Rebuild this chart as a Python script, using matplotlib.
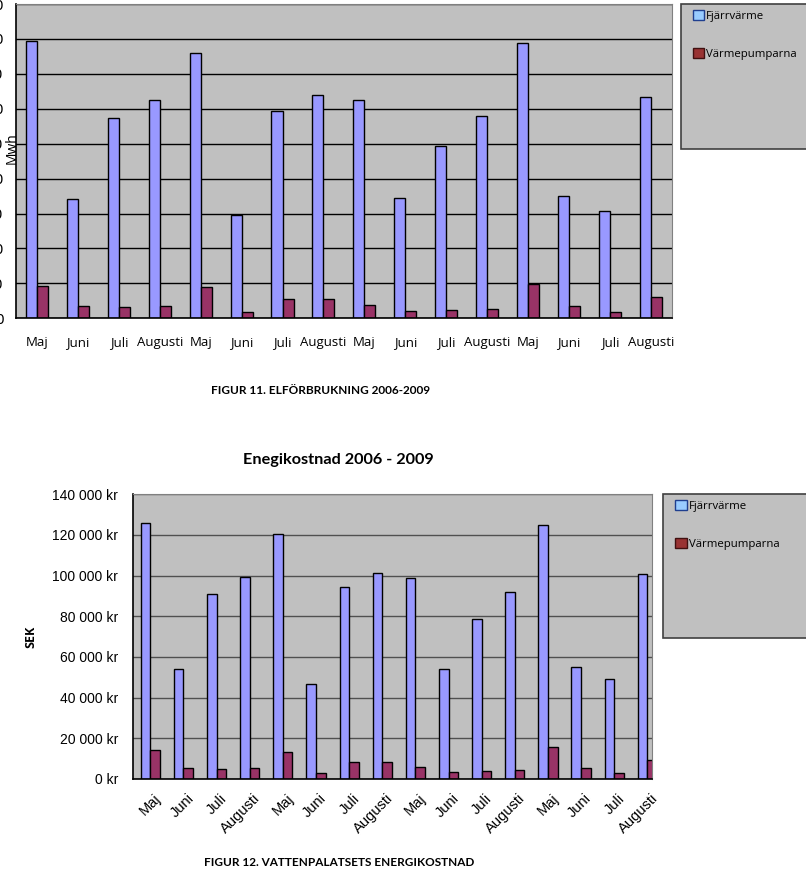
import matplotlib.pyplot as plt
from matplotlib.patches import Patch, Rectangle
import numpy as np

# data
months = ['Maj', 'Juni', 'Juli', 'Augusti'] * 4
el_fjarr = [79.5, 34.1, 57.4, 62.6, 76.0, 29.5, 59.5, 64.0,
            62.4, 34.5, 49.3, 58.0, 78.7, 34.9, 30.7, 63.5]
el_pump = [9.2, 3.5, 3.3, 3.5, 8.9, 1.9, 5.4, 5.4,
           3.9, 2.1, 2.4, 2.7, 9.7, 3.4, 1.7, 6.0]
kost_fjarr = [126000, 54000, 90800, 99500, 120700, 46600, 94600, 101500,
              98700, 54300, 78600, 92100, 125100, 54900, 49200, 100700]
kost_pump = [14300, 5300, 4900, 5300, 13400, 2800, 8500, 8500,
             5900, 3400, 3700, 4300, 15700, 5300, 2800, 9300]
series = ['Fjärrvärme', 'Värmepumparna']

W, H = 806, 869
BLUE, RED = '#9999FF', '#993366'
GREY = '#C0C0C0'


def rect(l, t, r, b):
    return [l / W, 1 - b / H, (r - l) / W, (b - t) / H]


def style(ax, grid_col):
    ax.set_facecolor(GREY)
    ax.yaxis.grid(True, color=grid_col, lw=1)
    ax.set_axisbelow(True)
    for s in ['top', 'right']:
        ax.spines[s].set_color('#808080')
        ax.spines[s].set_linewidth(0.8)
    for s in ['left', 'bottom']:
        ax.spines[s].set_color('black')
        ax.spines[s].set_linewidth(1.2)
    ax.tick_params(length=0)


def legend_box(fig, l, t, r, b, px):
    fig.add_artist(Rectangle((l / W, 1 - b / H), (r - l) / W, (b - t) / H,
                             transform=fig.transFigure, facecolor=GREY,
                             edgecolor='#404040', lw=1.2))
    handles = [Patch(facecolor='#99CCFF', edgecolor='#1F3F8F', lw=1),
               Patch(facecolor='#993333', edgecolor='#401010', lw=1)]
    fig.legend(handles, series, loc='upper left',
               bbox_to_anchor=(px / W, 1 - (t + 6) / H), frameon=False,
               prop={'family': 'Open Sans', 'size': 8.2},
               handlelength=1.0, handleheight=1.0, handletextpad=0.2,
               labelspacing=2.3, borderpad=0, borderaxespad=0)


fig = plt.figure(figsize=(W / 100, H / 100), dpi=100)
x = np.arange(len(months))

# top chart
ax1 = fig.add_axes(rect(16, 4, 672, 318.3))
style(ax1, 'black')
w1 = 0.27
ax1.bar(x - w1 / 2, el_fjarr, w1, color=BLUE, edgecolor='black', lw=1)
ax1.bar(x + w1 / 2, el_pump, w1, color=RED, edgecolor='black', lw=1)
ax1.set_xlim(-0.515, 15.52)
ax1.set_ylim(0, 90)
ax1.set_yticks(range(0, 91, 10))
ax1.tick_params(axis='y', pad=9, labelsize=10)
ax1.set_xticks(x)
ax1.set_xticklabels(months, family='Open Sans', fontsize=9.5)
ax1.tick_params(axis='x', pad=13)
fig.text(12 / W, 1 - 148 / H, 'Mwh', rotation=90, ha='center', va='center',
         family='Open Sans', fontsize=10)
legend_box(fig, 680.7, 4, 820, 149.3, 692.7)
fig.text(321 / W, 1 - 390.7 / H, 'FIGUR 11. ELFÖRBRUKNING 2006-2009',
         ha='center', va='center', family='Lato', weight='bold', fontsize=8.5)

# bottom chart
ax2 = fig.add_axes(rect(133.3, 494.3, 652.3, 779))
style(ax2, '#505050')
w2 = 0.29
ax2.bar(x - w2 / 2, kost_fjarr, w2, color=BLUE, edgecolor='black', lw=1)
ax2.bar(x + w2 / 2, kost_pump, w2, color=RED, edgecolor='black', lw=1)
ax2.set_xlim(-0.513, 15.15)
ax2.set_ylim(0, 140000)
yt = range(0, 140001, 20000)
ax2.set_yticks(yt)
ax2.set_yticklabels([f'{v:,}'.replace(',', ' ') + ' kr' for v in yt],
                    family='Liberation Sans', fontsize=10)
ax2.tick_params(axis='y', pad=11)
ax2.set_xticks(x + 0.1)
ax2.set_xticklabels(months, rotation=45, ha='right', rotation_mode='anchor',
                    family='Liberation Sans', fontsize=10.5)
ax2.tick_params(axis='x', pad=9)
ax2.set_title('Enegikostnad 2006 - 2009', family='Lato', weight='bold',
              fontsize=11.7, x=(338 - 133.3) / 519, pad=22)
fig.text(30.7 / W, 1 - 636.7 / H, 'SEK', rotation=90, ha='center',
         va='center', family='Open Sans', weight='bold', fontsize=9)
legend_box(fig, 663.3, 494, 820, 638.3, 675.3)
fig.text(339 / W, 1 - 862 / H, 'FIGUR 12. VATTENPALATSETS ENERGIKOSTNAD',
         ha='center', va='center', family='Lato', weight='bold', fontsize=8.5)

fig.savefig('out.png', dpi=100)
